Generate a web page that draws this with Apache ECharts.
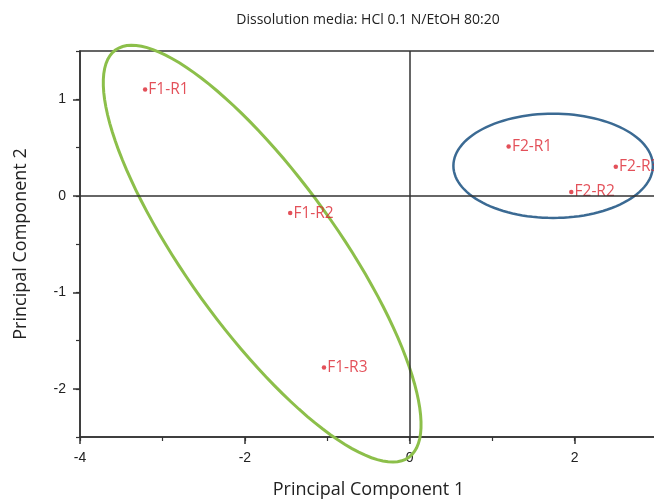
<!DOCTYPE html>
<html>
<head>
<meta charset="utf-8">
<script src="https://cdn.jsdelivr.net/npm/echarts@6/dist/echarts.min.js"></script>
<style>
  html, body { margin: 0; padding: 0; background: #fff; }
  #chart { width: 654px; height: 500px; }
</style>
</head>
<body>
<div id="chart"></div>
<script>
// PCA scores for the six dissolution runs
const runNames = ['F1-R1', 'F1-R2', 'F1-R3', 'F2-R1', 'F2-R2', 'F2-R3'];
const pc1Scores = [-3.21, -1.45, -1.04, 1.20, 1.96, 2.50];
const pc2Scores = [1.10, -0.18, -1.78, 0.51, 0.04, 0.30];

// Group ellipses: centre and two semi-axis vectors, all in score units
const groupNames = ['F1', 'F2'];
const groupCenters = [[-1.79, -0.60], [1.74, 0.31]];
const groupAxisU = [[1.78, -2.11], [1.21, 0.0]];
const groupAxisV = [[0.74, 0.46], [0.0, 0.54]];
const groupColors = ['#8cbf4a', '#3b6a93'];

// Axis ranges and tick steps
const xRange = [-4, 3];
const yRange = [-2.5, 1.5];
const xLabelStep = 2;

const chartTitle = 'Dissolution media: HCl 0.1 N/EtOH 80:20';

const scatterData = runNames.map((n, i) => ({ name: n, value: [pc1Scores[i], pc2Scores[i]] }));
const ellipseData = groupNames.map((g, i) => ({
  name: g,
  value: [groupCenters[i][0], groupCenters[i][1], groupAxisU[i][0], groupAxisU[i][1], groupAxisV[i][0], groupAxisV[i][1], i]
}));

const chart = echarts.init(document.getElementById('chart'), null, { renderer: 'canvas' });

const axisColor = '#333';
const textFont = 'Open Sans';

chart.setOption({
  animation: false,
  backgroundColor: '#fff',
  graphic: [{
    type: 'text',
    x: 368, y: 20,
    style: {
      text: chartTitle,
      textAlign: 'center', textVerticalAlign: 'middle',
      font: '14px "Open Sans"', fill: '#222'
    }
  }],
  grid: {
    left: 80, top: 51, width: 577, height: 386,
    outerBoundsMode: 'none', containLabel: false,
    show: true, borderColor: axisColor, borderWidth: 1.5, backgroundColor: 'transparent'
  },
  xAxis: [
    {
      type: 'value', min: xRange[0], max: xRange[1], interval: xLabelStep,
      position: 'bottom',
      axisLine: { onZero: false, lineStyle: { color: axisColor, width: 1.5 } },
      axisTick: { inside: false, length: 7, lineStyle: { color: axisColor, width: 1.5 } },
      axisLabel: { showMaxLabel: false, fontFamily: 'Liberation Sans', fontSize: 14, color: '#222', margin: 14 },
      splitLine: { show: false },
      name: 'Principal Component 1', nameLocation: 'middle', nameGap: 44,
      nameTextStyle: { fontFamily: textFont, fontSize: 18, color: '#222' }
    },
    {
      // short ticks at every unit
      type: 'value', min: xRange[0], max: xRange[1], interval: 1,
      position: 'bottom', gridIndex: 0,
      axisLine: { show: false, onZero: false },
      axisTick: { length: 4, lineStyle: { color: axisColor, width: 1.2 } },
      axisLabel: { show: false },
      splitLine: { show: false }
    }
  ],
  yAxis: [
    {
      type: 'value', min: yRange[0], max: yRange[1], splitNumber: 4,
      position: 'left',
      axisLine: { onZero: false, lineStyle: { color: axisColor, width: 1.5 } },
      axisTick: { length: 7, lineStyle: { color: axisColor, width: 1.5 } },
      axisLabel: { showMinLabel: false, showMaxLabel: false, fontFamily: 'Liberation Sans', fontSize: 14, color: '#222', margin: 14 },
      splitLine: { show: false },
      name: 'Principal Component 2', nameLocation: 'middle', nameGap: 50,
      nameTextStyle: { fontFamily: textFont, fontSize: 18, color: '#222' }
    },
    {
      // short ticks at every half unit
      type: 'value', min: yRange[0], max: yRange[1], interval: 0.5,
      position: 'left',
      axisLine: { show: false, onZero: false },
      axisTick: { length: 4, lineStyle: { color: axisColor, width: 1.2 } },
      axisLabel: { show: false },
      splitLine: { show: false }
    }
  ],
  series: [
    {
      type: 'custom',
      name: 'groups',
      clip: false,
      silent: true,
      z: 3,
      data: ellipseData,
      renderItem: function (params, api) {
        const cx = api.value(0), cy = api.value(1);
        const ux = api.value(2), uy = api.value(3);
        const vx = api.value(4), vy = api.value(5);
        const idx = api.value(6);
        const pts = [];
        const steps = 120;
        for (let k = 0; k < steps; k++) {
          const t = (k / steps) * Math.PI * 2;
          const c = Math.cos(t), s = Math.sin(t);
          pts.push(api.coord([cx + ux * c + vx * s, cy + uy * c + vy * s]));
        }
        return {
          type: 'polygon',
          shape: { points: pts },
          style: { fill: null, stroke: groupColors[idx], lineWidth: idx === 0 ? 3 : 2.5 }
        };
      }
    },
    {
      type: 'scatter',
      name: 'runs',
      z: 4,
      symbol: 'circle',
      symbolSize: 4.5,
      itemStyle: { color: '#dc2430' },
      data: scatterData,
      label: {
        show: true,
        position: 'right',
        distance: 1,
        formatter: '{b}',
        fontFamily: textFont,
        fontSize: 15.5,
        color: '#dc2430'
      },
      markLine: {
        silent: true,
        symbol: 'none',
        label: { show: false },
        lineStyle: { color: axisColor, width: 1.5, type: 'solid' },
        data: [{ xAxis: 0 }, { yAxis: 0 }]
      }
    }
  ]
});
</script>
</body>
</html>
